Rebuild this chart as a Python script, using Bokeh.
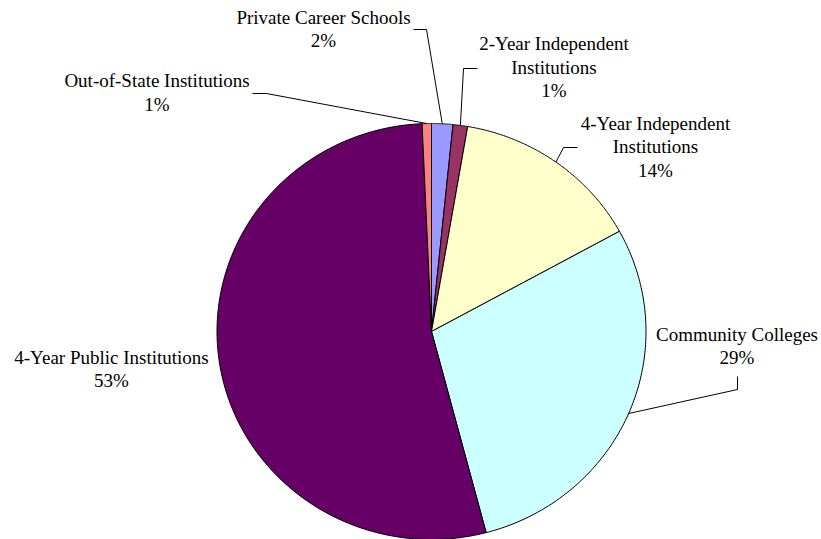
import numpy as np
from bokeh.plotting import figure
from bokeh.models import Range1d
from bokeh.core.properties import value
from bokeh.embed import file_html
from bokeh.resources import INLINE

# ---- data ----
categories = ["Private Career Schools", "2-Year Independent Institutions",
              "4-Year Independent Institutions", "Community Colleges",
              "4-Year Public Institutions", "Out-of-State Institutions"]
shares = [1.6, 1.1, 14.3, 28.9, 53.4, 0.7]
colors = ["#9999FF", "#993366", "#FFFFCC", "#CCFFFF", "#660066", "#FF8080"]

# label layout (image pixel coordinates): name lines, center x, baselines, leader stub
label_lines = [
    ["Private Career Schools"],
    ["2-Year Independent", "Institutions"],
    ["4-Year Independent", "Institutions"],
    ["Community Colleges"],
    ["4-Year Public Institutions"],
    ["Out-of-State Institutions"],
]
label_cx = [323, 553.5, 655, 736.5, 111, 156.5]
label_base = [[24, 47], [50, 73.5, 97], [130, 153, 177], [341, 364], [364, 387], [87, 111]]
TEXT_SHIFT = -7
stubs = [[(413, 29), (426, 29)], [(477, 68), (463, 68)], [(577, 147), (563, 147)],
         [(737, 376), (737, 389)], None, [(252, 93), (266, 93)]]

# ---- geometry (image px) ----
W, H = 821, 539
OFF = 0
CX, CY, RX, RY = 431.0, 331.0, 214.5, 208.0


def dx(X):
    return (X - CX) / RX


def dy(Y):
    return (CY - Y) / RY


p = figure(width=W, height=H, output_backend="svg", toolbar_location=None,
           x_range=Range1d(dx(OFF), dx(OFF + W)), y_range=Range1d(dy(OFF + H), dy(OFF)),
           min_border=0, outline_line_color=None)
p.axis.visible = False
p.grid.visible = False
p.background_fill_color = "white"
p.border_fill_color = "white"

total = sum(shares)
cum = np.cumsum([0] + shares) / total
xs, ys = [], []
for i in range(len(shares)):
    t = np.linspace(cum[i], cum[i + 1], 120) * 2 * np.pi
    xs.append([0.0] + list(np.sin(t)) + [0.0])
    ys.append([0.0] + list(np.cos(t)) + [0.0])
p.patches(xs, ys, fill_color=colors, line_color="black", line_width=1)

font = value("Liberation Serif")
for i, name in enumerate(categories):
    lines = label_lines[i] + [f"{round(shares[i])}%"]
    for ln, by in zip(lines, label_base[i]):
        p.text(x=[dx(label_cx[i])], y=[dy(by + TEXT_SHIFT)], text=[ln], text_font=font,
               text_font_size="19px", text_align="center", text_baseline="alphabetic",
               text_color="black")
    if stubs[i] is not None:
        mid = (cum[i] + cum[i + 1]) / 2 * 2 * np.pi
        lx = [dx(s[0]) for s in stubs[i]] + [np.sin(mid)]
        ly = [dy(s[1]) for s in stubs[i]] + [np.cos(mid)]
        p.line(lx, ly, line_color="black", line_width=1)

open("out.html", "w").write(file_html(p, INLINE))
